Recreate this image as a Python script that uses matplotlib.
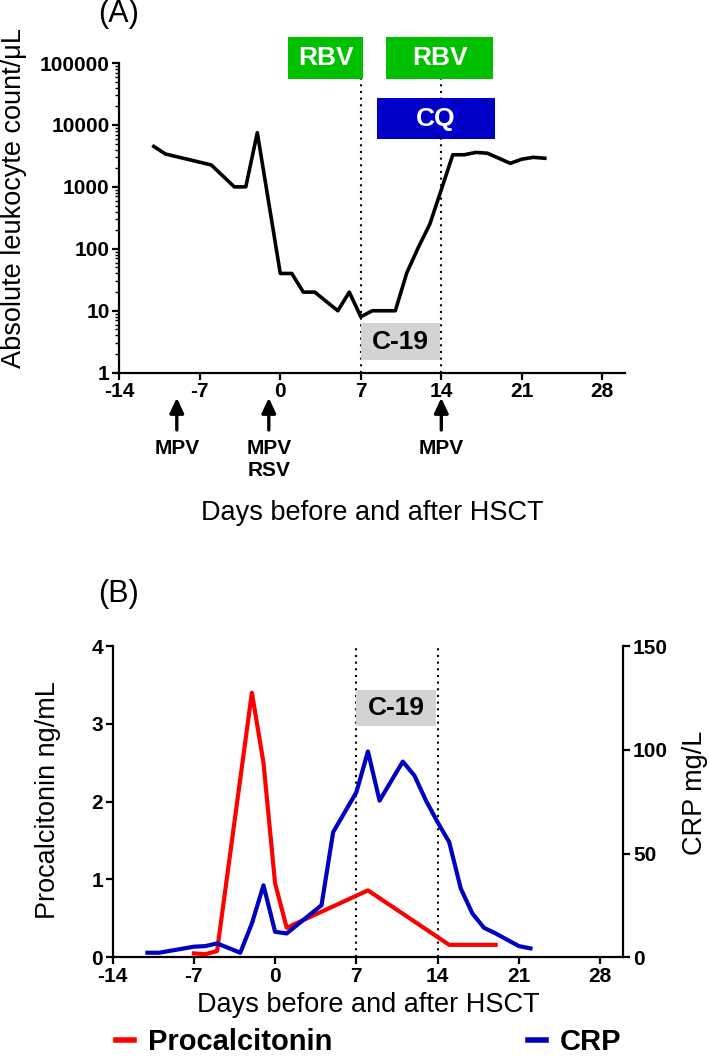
import matplotlib
matplotlib.use("Agg")
import matplotlib.pyplot as plt
from matplotlib.patches import Rectangle
from matplotlib.lines import Line2D
from matplotlib.ticker import LogLocator, NullFormatter

plt.rcParams['font.family'] = ['Liberation Sans', 'DejaVu Sans']

# ── data ──────────────────────────────────────────────────────────────────────
wbc_day = [-11, -10, -6, -4, -3, -2, 0, 1, 2, 3, 5, 6, 7, 8, 10, 11, 12, 13, 14,
           15, 16, 17, 18, 20, 21, 22, 23]
wbc_count = [4500, 3400, 2260, 1000, 1000, 7500, 40, 40, 20, 20, 10, 20, 8, 10, 10,
             41, 105, 250, 900, 3300, 3300, 3600, 3500, 2400, 2800, 3000, 2900]

pct_day = [-7, -6, -5, -2, -1, 0, 1, 8, 15, 19]
pct_val = [0.05, 0.04, 0.08, 3.40, 2.50, 0.95, 0.38, 0.86, 0.16, 0.16]

crp_day = [-11, -10, -7, -6, -5, -3, -2, -1, 0, 1, 4, 5, 7, 8, 9, 11, 12, 13, 14,
           15, 16, 17, 18, 19, 21, 22]
crp_val = [2.2, 2.2, 5.1, 5.4, 6.7, 2.2, 16.3, 34.7, 12.3, 11.5, 25.1, 60.3, 79.5,
           99.2, 75.5, 94.3, 87.6, 75.5, 65.1, 55.5, 33.1, 21.1, 14.2, 11.5, 5.4, 4.3]

day_ticks = [-14, -7, 0, 7, 14, 21, 28]
wbc_ticks = [1, 10, 100, 1000, 10000, 100000]
pct_ticks = [0, 1, 2, 3, 4]
crp_ticks = [0, 50, 100, 150]

rbv_periods = [(0.7, 7.2), (9.2, 18.5)]
cq_period = (8.4, 18.7)
covid_period = (7.0, 13.9)
covid_marks = [7, 14]
virus_days = [-9, -1, 14]
virus_labels = [['MPV'], ['MPV', 'RSV'], ['MPV']]

# ── colours ───────────────────────────────────────────────────────────────────
C_GREEN = '#00C000'
C_BLUE_BOX = '#0000C8'
C_GREY = '#D3D3D3'
C_RED = '#FF0000'
C_BLUE = '#0000C0'

TICK_SIZE = 15
LABEL_SIZE = 19.5
BOX_SIZE = 19

W, H = 709, 1057
fig = plt.figure(figsize=(W / 100, H / 100), dpi=100)


def fx(px):
    return px / W


def fy(py):
    return 1 - py / H


def style_axis(ax):
    ax.tick_params(direction='out', length=5, width=1.6, labelsize=TICK_SIZE, pad=2)
    for lab in ax.get_xticklabels() + ax.get_yticklabels():
        lab.set_fontweight('bold')


def dotted(ax, x, y0, y1):
    ax.plot([x, x], [y0, y1], color='black', lw=1.5, ls=(0, (1, 2.2)), zorder=2,
            clip_on=False)


def box(ax, x0, x1, y0, y1, yc, color, text, tcolor):
    ax.add_patch(Rectangle((x0, y0), x1 - x0, y1 - y0, facecolor=color,
                           edgecolor='none', clip_on=False, zorder=5))
    ax.text((x0 + x1) / 2, yc, text, ha='center', va='center', color=tcolor,
            fontsize=BOX_SIZE, fontweight='bold', zorder=6, clip_on=False)


# ── panel A ───────────────────────────────────────────────────────────────────
axA = fig.add_axes([fx(119.3), fy(372.7), 506 / W, 309.7 / H])
axA.set_yscale('log')
axA.set_xlim(-14, 30)
axA.set_ylim(1, 1e5)
axA.plot(wbc_day, wbc_count, color='black', lw=2.6, zorder=3)

for s in ['top', 'right']:
    axA.spines[s].set_visible(False)
for s in ['left', 'bottom']:
    axA.spines[s].set_linewidth(1.6)
axA.set_xticks(day_ticks)
axA.set_xticklabels([str(d) for d in day_ticks])
axA.set_yticks(wbc_ticks)
axA.set_yticklabels([str(v) for v in wbc_ticks])
axA.yaxis.set_minor_locator(LogLocator(base=10, subs=range(2, 10)))
axA.yaxis.set_minor_formatter(NullFormatter())
axA.tick_params(which='minor', direction='out', length=3, width=1.0)
style_axis(axA)

for d in covid_marks:
    dotted(axA, d, 1, 10 ** 4.74)
for x0, x1 in rbv_periods:
    box(axA, x0, x1, 10 ** 4.74, 10 ** 5.42, 10 ** 5.08, C_GREEN, 'RBV', 'white')
box(axA, cq_period[0], cq_period[1], 10 ** 3.77, 10 ** 4.43, 10 ** 4.1,
    C_BLUE_BOX, 'CQ', 'white')
box(axA, covid_period[0], covid_period[1], 1.6, 6.3, 10 ** 0.5, C_GREY, 'C-19', 'black')

for d, lines in zip(virus_days, virus_labels):
    axA.annotate('', xy=(d, -0.081), xycoords=('data', 'axes fraction'),
                 xytext=(d, -0.185), textcoords=('data', 'axes fraction'),
                 arrowprops=dict(arrowstyle='-|>,head_length=0.6,head_width=0.28',
                                 color='black', lw=2.4, mutation_scale=15,
                                 shrinkA=0, shrinkB=0))
    axA.text(d, -0.215, '\n'.join(lines), transform=axA.get_xaxis_transform(),
             ha='center', va='top', fontsize=15, fontweight='bold', linespacing=1.2)

fig.text(fx(372), fy(513), 'Days before and after HSCT', ha='center', va='center',
         fontsize=LABEL_SIZE)
fig.text(fx(14), fy(198), 'Absolute leukocyte count/μL', ha='center', va='center',
         rotation=90, fontsize=LABEL_SIZE)
fig.text(fx(119), fy(14), '(A)', ha='center', va='center', fontsize=22)

# ── panel B ───────────────────────────────────────────────────────────────────
axB = fig.add_axes([fx(112.6), fy(957.3), 510.7 / W, 311.3 / H])
axB.set_xlim(-14, 30)
axB.set_ylim(0, 4)
axB2 = axB.twinx()
axB2.set_ylim(0, 150)

axB.plot(pct_day, pct_val, color=C_RED, lw=3.0, zorder=3)
axB2.plot(crp_day, crp_val, color=C_BLUE, lw=3.0, zorder=3)

for s in ['top', 'right']:
    axB.spines[s].set_visible(False)
for s in ['top', 'left', 'bottom']:
    axB2.spines[s].set_visible(False)
for s in ['left', 'bottom']:
    axB.spines[s].set_linewidth(1.6)
axB2.spines['right'].set_linewidth(1.6)

axB.set_xticks(day_ticks)
axB.set_xticklabels([str(d) for d in day_ticks])
axB.set_yticks(pct_ticks)
axB.set_yticklabels([str(v) for v in pct_ticks])
axB2.set_yticks(crp_ticks)
axB2.set_yticklabels([str(v) for v in crp_ticks])
style_axis(axB)
style_axis(axB2)

for d in covid_marks:
    dotted(axB, d, 0, 4)
box(axB, covid_period[0], covid_period[1], 2.97, 3.44, 3.205, C_GREY, 'C-19', 'black')

fig.text(fx(368), fy(1005), 'Days before and after HSCT', ha='center', va='center',
         fontsize=LABEL_SIZE)
fig.text(fx(48), fy(800), 'Procalcitonin ng/mL', ha='center', va='center',
         rotation=90, fontsize=LABEL_SIZE)
fig.text(fx(695), fy(793), 'CRP mg/L', ha='center', va='center',
         rotation=90, fontsize=LABEL_SIZE)
fig.text(fx(119), fy(594), '(B)', ha='center', va='center', fontsize=22)

handles = [Line2D([], [], color=C_RED, lw=4), Line2D([], [], color=C_BLUE, lw=4)]
fig.legend(handles, ['Procalcitonin', 'CRP'], ncol=2, loc='center',
           bbox_to_anchor=(fx(369), fy(1042)), frameon=False, handlelength=0.6,
           handletextpad=0.5, columnspacing=6.7,
           prop=dict(weight='bold', size=21))

fig.savefig('out.png', dpi=100, facecolor='white')
